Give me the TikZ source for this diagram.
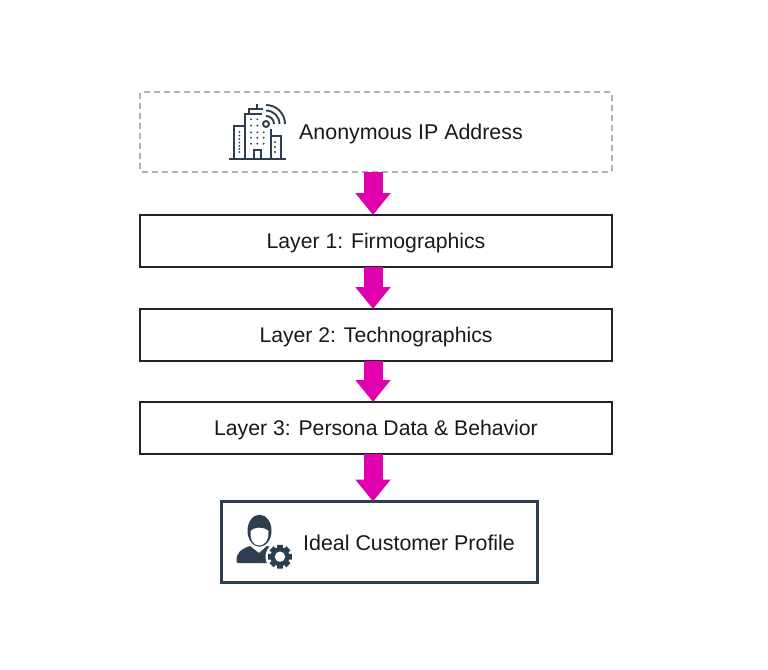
\documentclass[tikz,border=0pt]{standalone}
\usepackage{fontspec}
\setmainfont{Liberation Sans}
\usetikzlibrary{arrows.meta,calc}
\definecolor{ink}{HTML}{2C3E50}
\definecolor{mag}{HTML}{E000AE}
\definecolor{edge}{HTML}{1E2328}
\tikzset{
  label text/.style={font=\fontsize{21.4pt}{24pt}\selectfont,text=black!90},
  layerbox/.style={draw=edge,line width=1.5pt,fill=white,minimum width=472pt,minimum height=52pt,inner sep=0pt,outer sep=0pt,font=\fontsize{21.2pt}{24pt}\selectfont,text=black!90,text depth=0pt},
  dashbox/.style={draw=black!85,line width=0.7pt,dash pattern=on 6pt off 4pt,rounded corners=2pt,fill=white,minimum width=472pt,minimum height=80pt,inner sep=0pt,outer sep=0pt},
  goalbox/.style={draw=ink,line width=3.2pt,fill=white,minimum width=316pt,minimum height=81pt,inner sep=0pt,outer sep=0pt},
  flow/.style={draw=mag,line width=19pt,-{Triangle[length=22pt,width=34pt,fill=mag]}},
  icon/.style={draw=ink,line width=1.9pt,line join=miter},
  dot/.style={fill=ink,draw=none}
}
\begin{document}
\begin{tikzpicture}[x=1pt,y=-1pt]
\useasboundingbox (0,0) rectangle (768,669);
\node[dashbox] (a) at (376,132) {};
\node[layerbox] (l1) at (376,241) {Layer 1: Firmographics};
\node[layerbox] (l2) at (376,335) {Layer 2: Technographics};
\node[layerbox] (l3) at (376,428) {Layer 3: Persona Data \& Behavior};
\node[goalbox] (g) at (379.5,542) {};
\node[label text,anchor=west,inner sep=0pt] (at) at (299,134) {Anonymous IP Address};
\node[label text,anchor=west,inner sep=0pt] (gt) at (303,543) {Ideal Customer Profile};
\coordinate (ax) at (373,0);
\draw[flow] (ax |- a.south) -- (ax |- l1.north);
\draw[flow] (ax |- l1.south) -- (ax |- l2.north);
\draw[flow] (ax |- l2.south) -- (ax |- l3.north);
\draw[flow] (ax |- l3.south) -- (ax |- g.north);
% building icon
\draw[icon] (229,159) -- (286,159);
\draw[icon] (245,159) -- (245,126) -- (234,126) -- (234,159);
\draw[icon] (245,126) -- (245,114) -- (262,114);
\draw[icon] (271,129) -- (271,159);
\draw[icon] (271,136) -- (281,136) -- (281,159);
\draw[icon] (249,114) -- (249,109) -- (263,109);
\draw[icon] (257,109) -- (257,104);
\draw[icon] (254,159) -- (254,150) -- (261,150) -- (261,159);
\draw[icon] (266,124) circle (3);
\foreach \r in {8,13.5,19}{
  \draw[icon] (266+\r,124) arc[start angle=0,end angle=-90,x radius=\r,y radius=\r];
}
\foreach \x in {251,257.3,263.7}\foreach \y in {132.3,137.7,143.7}{\fill[dot] (\x,\y) circle (1.05);}
\foreach \x in {251,257.3}{\fill[dot] (\x,119.3) circle (1.05);\fill[dot] (\x,125.7) circle (1.05);}
\foreach \y in {132,135.5,139,142.5,146,149,152}{\fill[dot] (239.3,\y) circle (1);}
\foreach \y in {142,147,152}{\fill[dot] (275,\y) circle (1.05);}
% person icon
\fill[ink] (236.5,561) .. controls (236,553) and (241,549) .. (250,546) -- (259,553) -- (267,546) .. controls (272,547) and (276,550) .. (278,556) -- (272,563) -- (238,563) .. controls (237,563) and (236.5,562) .. (236.5,561) -- cycle;
\fill[ink] (259.5,530.7) ellipse (12 and 16);
\fill[white] (250.5,531) .. controls (254,527) and (263,526) .. (268.5,531) .. controls (269,541) and (264,545.5) .. (259.3,545.5) .. controls (254,545.5) and (250,541) .. (250.5,531) -- cycle;
\fill[white] (280,556.7) circle (14.5);
\fill[ink] \foreach \i in {0,45,...,315}{
  ($(280,556.7)+(\i-20:8)$) -- ($(280,556.7)+(\i-14:12.3)$) -- ($(280,556.7)+(\i+14:12.3)$) -- ($(280,556.7)+(\i+20:8)$) -- cycle
};
\fill[ink] (280,556.7) circle (9.5);
\fill[white] (280,556.7) circle (5.2);
\end{tikzpicture}
\end{document}
